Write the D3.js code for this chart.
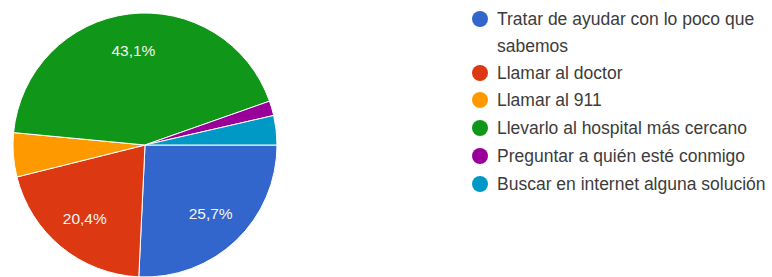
<!DOCTYPE html>
<html>
<head>
<meta charset="utf-8">
<script src="https://cdn.jsdelivr.net/npm/d3@7"></script>
<style>
  body { margin: 0; background: #fff; }
  svg text { font-family: "Liberation Sans", Arial, sans-serif; }
</style>
</head>
<body>
<script>
// data (counts, n = 167)
const categories = [
    "Tratar de ayudar con lo poco que sabemos",
    "Llamar al doctor",
    "Llamar al 911",
    "Llevarlo al hospital más cercano",
    "Preguntar a quién esté conmigo",
    "Buscar en internet alguna solución"
];
const counts = [43, 34, 9, 72, 3, 6];
const colors = ["#3366cc", "#dc3912", "#ff9900", "#109618", "#990099", "#0099c6"];
// legend rows, first item wraps on two lines
const legendLines = [
    ["Tratar de ayudar con lo poco que", "sabemos"],
    ["Llamar al doctor"],
    ["Llamar al 911"],
    ["Llevarlo al hospital más cercano"],
    ["Preguntar a quién esté conmigo"],
    ["Buscar en internet alguna solución"]
];

const w = 772, h = 277;
const cx = 145, cy = 145, r = 132;

const svg = d3.select("body").append("svg")
    .attr("width", w)
    .attr("height", h);

const total = d3.sum(counts);
const data = counts.map((v, i) => ({ name: categories[i], value: v, color: colors[i] }));

// pie starts at 3 o'clock and runs clockwise
const pie = d3.pie()
    .value(d => d.value)
    .sort(null)
    .startAngle(Math.PI / 2)
    .endAngle(Math.PI / 2 + 2 * Math.PI);

const arc = d3.arc().innerRadius(0).outerRadius(r);
const labelArc = d3.arc().innerRadius(r * 0.72).outerRadius(r * 0.72);

const g = svg.append("g").attr("transform", "translate(" + cx + "," + cy + ")");

const arcs = pie(data);

g.selectAll("path")
    .data(arcs)
    .enter()
    .append("path")
    .attr("d", arc)
    .attr("fill", d => d.data.color)
    .attr("stroke", "#fff")
    .attr("stroke-width", 1);

const fmt = v => (v / total * 100).toFixed(1).replace(".", ",") + "%";

g.selectAll(".lbl")
    .data(arcs.filter(d => d.data.value / total > 0.1))
    .enter()
    .append("text")
    .attr("class", "lbl")
    .attr("transform", d => "translate(" + labelArc.centroid(d) + ")")
    .attr("text-anchor", "middle")
    .attr("dominant-baseline", "central")
    .style("font-size", "15.5px")
    .attr("fill", "#f4f4f4")
    .text(d => fmt(d.data.value));

// legend
const rowY = [19, 73, 100, 128, 156, 184];
const legend = svg.append("g");

legendLines.forEach((lines, i) => {
    legend.append("circle")
        .attr("cx", 480)
        .attr("cy", rowY[i])
        .attr("r", 8)
        .attr("fill", colors[i]);
    lines.forEach((t, j) => {
        legend.append("text")
            .attr("x", 497)
            .attr("y", rowY[i] + j * 26.5)
            .attr("dominant-baseline", "central")
            .style("font-size", "17.5px")
            .attr("fill", "#3c3c3c")
            .text(t);
    });
});
</script>
</body>
</html>
